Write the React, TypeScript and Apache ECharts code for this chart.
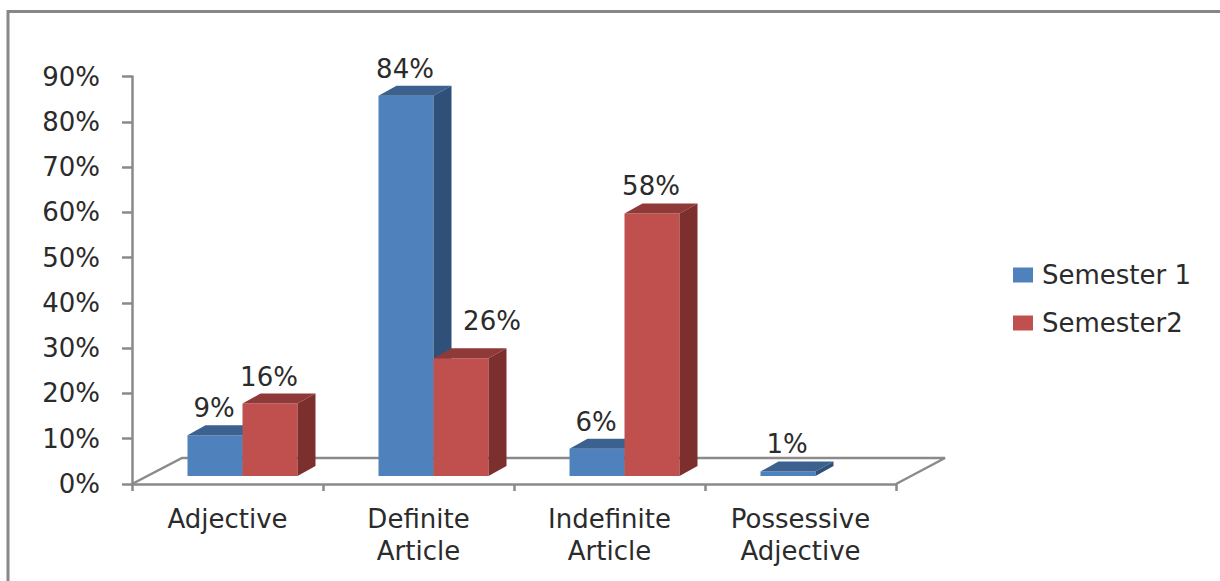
import React, { useEffect, useRef } from "react";
import * as echarts from "echarts";

const categories = ["Adjective", "Definite\nArticle", "Indefinite\nArticle", "Possessive\nAdjective"];
const semester1 = [9, 84, 6, 1];
const semester2 = [16, 26, 58];
const percentTicks = { min: 0, max: 90, step: 10 };

const FONT = "DejaVu Sans";
const FONT_SIZE = 26;
const TEXT = "#2b2b2b";
const AXIS = "#8a8a8a";

// Oblique projection of the bars' depth, and where they stand on the floor
const DEPTH_X = 18;
const DEPTH_Y = 10;
const FLOOR_X = 15;
const FLOOR_Y = 8;
const BAR_WIDTH = 55;
const LABEL_RISE = 27;

// The Definite Article label of Semester 2 sits clear of the taller blue bar
const labelShift = (side: number, cat: number) =>
  side > 0 && cat === 1 ? { dx: 32, dy: -10 } : { dx: 0, dy: 0 };

const makeBars = (side: number, front: string, top: string, flank: string) =>
  (params: any, api: any) => {
    const cat = api.value(0);
    const value = api.value(1);
    const [cx, yTop] = api.coord([cat, value]);
    const [, yBase] = api.coord([cat, 0]);
    const x0 = cx + FLOOR_X + (side < 0 ? -BAR_WIDTH : 0);
    const x1 = x0 + BAR_WIDTH;
    const yt = yTop - FLOOR_Y;
    const yb = yBase - FLOOR_Y;
    const shift = labelShift(side, cat);
    return {
      type: "group",
      children: [
        {
          type: "polygon",
          shape: { points: [[x0, yb], [x1, yb], [x1, yt], [x0, yt]] },
          style: { fill: front },
        },
        {
          type: "polygon",
          shape: { points: [[x0, yt], [x1, yt], [x1 + DEPTH_X, yt - DEPTH_Y], [x0 + DEPTH_X, yt - DEPTH_Y]] },
          style: { fill: top },
        },
        {
          type: "polygon",
          shape: { points: [[x1, yb], [x1 + DEPTH_X, yb - DEPTH_Y], [x1 + DEPTH_X, yt - DEPTH_Y], [x1, yt]] },
          style: { fill: flank },
        },
        {
          type: "text",
          style: {
            text: `${value}%`,
            x: (x0 + x1) / 2 - 1 + shift.dx,
            y: yt - LABEL_RISE + shift.dy,
            align: "center",
            verticalAlign: "middle",
            fontFamily: FONT,
            fontSize: FONT_SIZE,
            fill: TEXT,
          },
        },
      ],
    };
  };

// Back edges of the chart floor, drawn behind the bars
const renderFloor = (params: any) => {
  const { x, y, width } = params.coordSys;
  const bottom = y + params.coordSys.height;
  return {
    type: "polyline",
    shape: {
      points: [
        [x, bottom],
        [x + 50, bottom - 26],
        [x + width + 49, bottom - 26],
        [x + width, bottom],
      ],
    },
    style: { stroke: AXIS, lineWidth: 2.5, fill: "none" },
  };
};

export default function App() {
  const ref = useRef<HTMLDivElement>(null);

  useEffect(() => {
    const chart = echarts.init(ref.current!, null, { renderer: "svg" });
    chart.setOption({
      animation: false,
      backgroundColor: "#ffffff",
      grid: { left: 132, top: 76.5, width: 764, height: 407.5 },
      xAxis: {
        type: "category",
        data: categories,
        boundaryGap: true,
        axisLine: { lineStyle: { color: AXIS, width: 2.5 } },
        axisTick: { show: true, length: 7, alignWithLabel: false, lineStyle: { color: AXIS, width: 2.5 } },
        axisLabel: {
          interval: 0,
          margin: 19,
          fontFamily: FONT,
          fontSize: FONT_SIZE,
          lineHeight: 32,
          color: TEXT,
        },
      },
      yAxis: {
        type: "value",
        min: percentTicks.min,
        max: percentTicks.max,
        interval: percentTicks.step,
        splitLine: { show: false },
        axisLine: { show: true, lineStyle: { color: AXIS, width: 2.5 } },
        axisTick: { show: true, length: 10, lineStyle: { color: AXIS, width: 2.5 } },
        axisLabel: {
          formatter: "{value}%",
          margin: 32,
          padding: [4, 0, 0, 0],
          fontFamily: FONT,
          fontSize: FONT_SIZE,
          color: TEXT,
        },
      },
      legend: {
        orient: "vertical",
        left: 1013,
        top: 262,
        padding: 0,
        itemWidth: 20,
        itemHeight: 15,
        itemGap: 22,
        textStyle: { fontFamily: FONT, fontSize: FONT_SIZE, color: TEXT, padding: [0, 0, 0, 4] },
        data: [
          { name: "Semester 1", icon: "rect" },
          { name: "Semester2", icon: "rect" },
        ],
      },
      graphic: [
        {
          type: "polyline",
          silent: true,
          shape: { points: [[8, 581], [8, 11.5], [1220, 11.5]] },
          style: { stroke: "#878787", lineWidth: 3, fill: "none" },
        },
      ],
      series: [
        {
          type: "custom",
          name: "floor",
          z: 1,
          silent: true,
          renderItem: renderFloor,
          data: [[0, 0]],
        },
        {
          type: "custom",
          name: "Semester 1",
          z: 3,
          itemStyle: { color: "#4f81bd" },
          encode: { x: 0, y: 1 },
          renderItem: makeBars(-1, "#4f81bd", "#3c618f", "#2f5078"),
          data: semester1.map((v, i) => [i, v]),
        },
        {
          type: "custom",
          name: "Semester2",
          z: 4,
          itemStyle: { color: "#c0504d" },
          encode: { x: 0, y: 1 },
          renderItem: makeBars(1, "#c0504d", "#8f3a38", "#7c2f2d"),
          data: semester2.map((v, i) => [i, v]),
        },
      ],
    });
    return () => chart.dispose();
  }, []);

  return <div ref={ref} style={{ position: "fixed", left: 0, top: 0, width: 1220, height: 581 }} />;
}
